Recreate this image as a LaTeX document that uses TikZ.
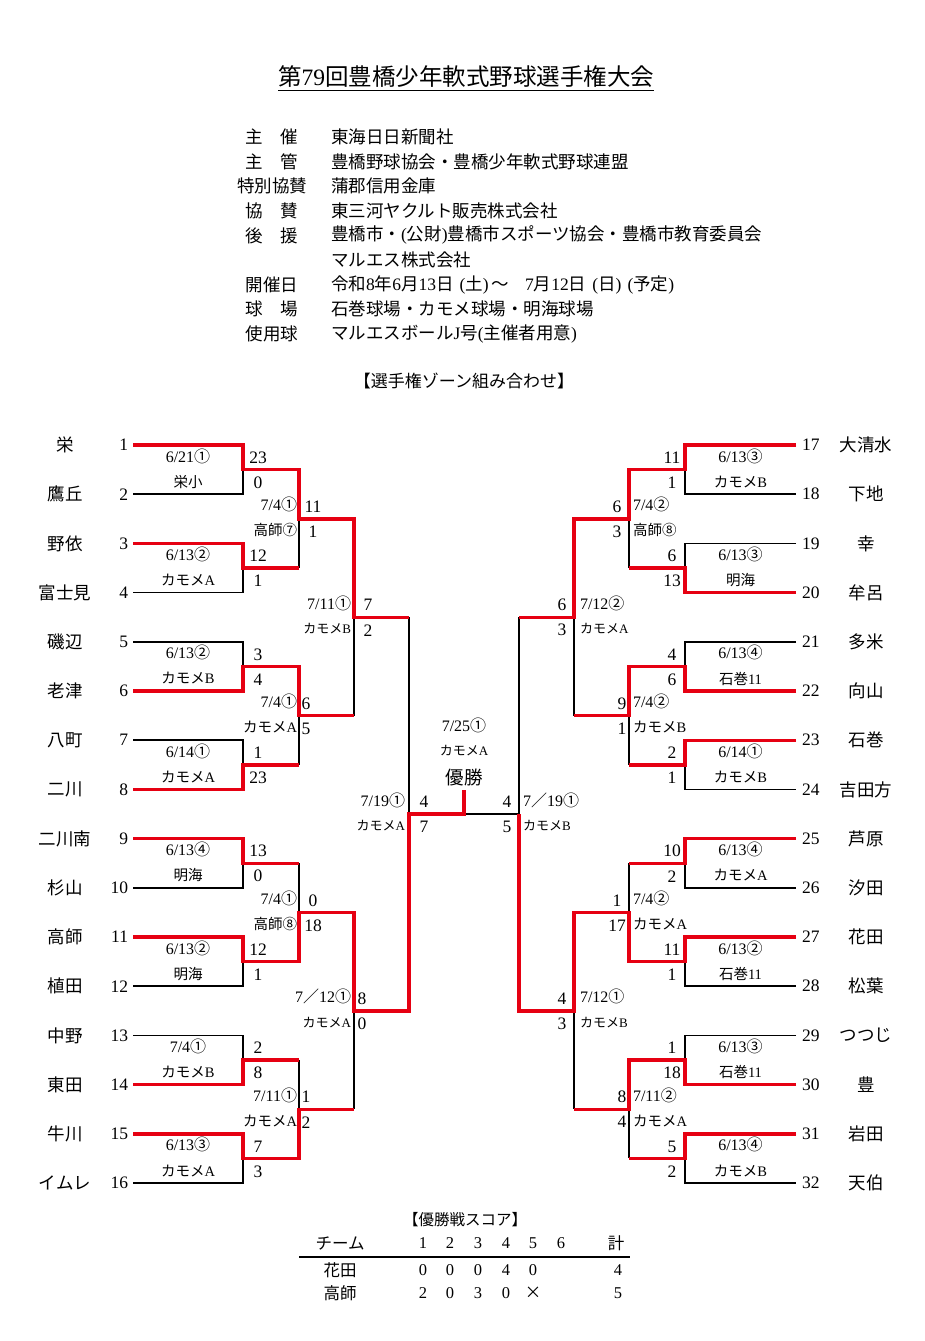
\documentclass[tikz,border=0pt]{standalone}
\usepackage{fontspec}
\setmainfont{Liberation Serif}
\newfontfamily\jp{Noto Sans CJK JP}
\newcommand\J[1]{{\jp #1}}
\newcommand\fs[1]{\fontsize{#1}{#1}\selectfont}
\definecolor{redc}{RGB}{230,0,18}
\tikzset{
  every node/.style={inner sep=0pt,outer sep=0pt},
  bl/.style={line width=1.7pt,black,line join=miter},
  rd/.style={line width=3.4pt,redc,line join=miter},
  tname/.style={font=\jp\fs{17.5}},
  tnum/.style={font=\fs{17.5}},
  sc/.style={font=\fs{17.5}},
  dt/.style={font=\fs{16}},
  vn/.style={font=\fs{14.5}},
  info/.style={font=\fs{17.5}},
  tab/.style={font=\fs{16.5}},
}
\newcommand\W[5]{\draw[rd] (#1,#2) -- (#3,#2) -- (#3,#4) -- (#5,#4);}
\newcommand\Rone[8]{%
  \node[dt] (d#1) at (#2,{#4+11}) {#5};
  \node[vn] (v#1) at (#2,{#4+49.2-12.5}) {#6};
  \node[sc] (a#1) at (#3,{#4+24.6-12}) {#7};
  \node[sc] (b#1) at (#3,{#4+24.6+13}) {#8};}
\newcommand\Rn[9]{%
  \node[dt,anchor=#2] (d#1) at (#3,{#5-14}) {#6};
  \node[vn,anchor=#2] (v#1) at (#3,{#5+11.5}) {#7};
  \node[sc] (a#1) at (#4,{#5-12}) {#8};
  \node[sc] (b#1) at (#4,{#5+13}) {#9};}
\begin{document}
\begin{tikzpicture}[x=1pt,y=-1pt]
\fill[white] (0,0) rectangle (924,1341);
\path[use as bounding box] (0,0) rectangle (924,1341);

% ---------- header ----------
\node[font=\fs{23.5}] (title) at (466,77) {\J{第}79\J{回豊橋少年軟式野球選手権大会}};
\draw[line width=1.1pt] ([yshift=-2.5pt]title.south west) -- ([yshift=-2.5pt]title.south east);

\node[info] (k1) at (272,137) {\J{主　催}};
\node[info] (k2) at (272,161.6) {\J{主　管}};
\node[info] (k3) at (272,186.2) {\J{特別協賛}};
\node[info] (k4) at (272,210.8) {\J{協　賛}};
\node[info] (k5) at (272,235.4) {\J{後　援}};
\node[info] (k7) at (272,284.6) {\J{開催日}};
\node[info] (k8) at (272,309.2) {\J{球　場}};
\node[info] (k9) at (272,333.8) {\J{使用球}};
\node[info,anchor=west] (i1) at (331,137) {\J{東海日日新聞社}};
\node[info,anchor=west] (i2) at (331,161.6) {\J{豊橋野球協会・豊橋少年軟式野球連盟}};
\node[info,anchor=west] (i3) at (331,186.2) {\J{蒲郡信用金庫}};
\node[info,anchor=west] (i4) at (331,210.8) {\J{東三河ヤクルト販売株式会社}};
\node[info,anchor=west] (i5) at (331,235.4) {\J{豊橋市・}(\J{公財})\J{豊橋市スポーツ協会・豊橋市教育委員会}};
\node[info,anchor=west] (i6) at (331,260) {\J{マルエス株式会社}};
\node[info,anchor=west] (i7) at (331,284.6) {\J{令和}8\J{年}6\J{月}13\J{日}\hspace{6pt}(\J{土})\hspace{3pt}\J{～}\hspace{16pt}7\J{月}12\J{日}\hspace{6pt}(\J{日})\hspace{6pt}(\J{予定})};
\node[info,anchor=west] (i8) at (331,309.2) {\J{石巻球場・カモメ球場・明海球場}};
\node[info,anchor=west] (i9) at (331,333.8) {\J{マルエスボール}J\J{号}(\J{主催者用意})};

\node[font=\jp\fs{17}] (zone) at (464,381) {【選手権ゾーン組み合わせ】};

% ---------- teams ----------
\foreach \i/\n in {1/栄,2/鷹丘,3/野依,4/富士見,5/磯辺,6/老津,7/八町,8/二川,9/二川南,10/杉山,11/高師,12/植田,13/中野,14/東田,15/牛川,16/イムレ}{
  \node[tname] (nl\i) at (65,{445+(\i-1)*49.2}) {\n};
  \node[tnum,anchor=east] (kl\i) at (128,{445+(\i-1)*49.2}) {\i};
}
\foreach \i/\n in {17/大清水,18/下地,19/幸,20/牟呂,21/多米,22/向山,23/石巻,24/吉田方,25/芦原,26/汐田,27/花田,28/松葉,29/つつじ,30/豊,31/岩田,32/天伯}{
  \node[tname] (nr\i) at (866,{445+(\i-17)*49.2}) {\n};
  \node[tnum,anchor=west] (kr\i) at (802,{445+(\i-17)*49.2}) {\i};
}

% ---------- black bracket ----------
\foreach \y in {445,543.4,641.8,740.2,838.6,937,1035.4,1133.8}{
  \draw[bl] (133,\y) -- (243,\y) -- (243,{\y+49.2}) -- (133,{\y+49.2});
  \draw[bl] (796,\y) -- (685,\y) -- (685,{\y+49.2}) -- (796,{\y+49.2});
}
\foreach \y in {469.6,666.4,863.2,1060}{
  \draw[bl] (299,\y) -- (299,{\y+98.4});
  \draw[bl] (629,\y) -- (629,{\y+98.4});
}
\foreach \y in {518.8,912.4}{
  \draw[bl] (354,\y) -- (354,{\y+196.8});
  \draw[bl] (574,\y) -- (574,{\y+196.8});
}
\draw[bl] (409,617.2) -- (409,1010.8);
\draw[bl] (519,617.2) -- (519,1010.8);
\draw[bl] (464,814) -- (519,814);

% ---------- red winner paths ----------
\W{133}{445}{243}{469.6}{299}
\W{133}{543.4}{243}{568}{299}
\W{133}{691}{243}{666.4}{299}
\W{133}{789.4}{243}{764.8}{299}
\W{133}{838.6}{243}{863.2}{299}
\W{133}{937}{243}{961.6}{299}
\W{133}{1084.6}{243}{1060}{299}
\W{133}{1133.8}{243}{1158.4}{299}
\W{243}{469.6}{299}{518.8}{354}
\W{243}{666.4}{299}{715.6}{354}
\W{243}{961.6}{299}{912.4}{354}
\W{243}{1158.4}{299}{1109.2}{354}
\W{299}{518.8}{354}{617.2}{409}
\W{299}{912.4}{354}{1010.8}{409}
\draw[rd] (354,1010.8) -- (409,1010.8) -- (409,814) -- (464,814) -- (464,790);

\W{796}{445}{685}{469.6}{629}
\W{796}{592.6}{685}{568}{629}
\W{796}{691}{685}{666.4}{629}
\W{796}{740.2}{685}{764.8}{629}
\W{796}{838.6}{685}{863.2}{629}
\W{796}{937}{685}{961.6}{629}
\W{796}{1084.6}{685}{1060}{629}
\W{796}{1133.8}{685}{1158.4}{629}
\W{685}{469.6}{629}{518.8}{574}
\W{685}{666.4}{629}{715.6}{574}
\W{685}{961.6}{629}{912.4}{574}
\W{685}{1060}{629}{1109.2}{574}
\W{629}{518.8}{574}{617.2}{519}
\W{629}{912.4}{574}{1010.8}{519}
\draw[rd] (574,1010.8) -- (519,1010.8) -- (519,814);

% ---------- match labels, left ----------
\Rone{L1}{188}{258}{445}{6/21\J{①}}{\J{栄小}}{23}{0}
\Rone{L2}{188}{258}{543.4}{6/13\J{②}}{\J{カモメ}A}{12}{1}
\Rone{L3}{188}{258}{641.8}{6/13\J{②}}{\J{カモメ}B}{3}{4}
\Rone{L4}{188}{258}{740.2}{6/14\J{①}}{\J{カモメ}A}{1}{23}
\Rone{L5}{188}{258}{838.6}{6/13\J{④}}{\J{明海}}{13}{0}
\Rone{L6}{188}{258}{937}{6/13\J{②}}{\J{明海}}{12}{1}
\Rone{L7}{188}{258}{1035.4}{7/4\J{①}}{\J{カモメ}B}{2}{8}
\Rone{L8}{188}{258}{1133.8}{6/13\J{③}}{\J{カモメ}A}{7}{3}
\Rn{LQ1}{east}{297}{313}{518.8}{7/4\J{①}}{\J{高師⑦}}{11}{1}
\Rn{LQ2}{east}{297}{306}{715.6}{7/4\J{①}}{\J{カモメ}A}{6}{5}
\Rn{LQ3}{east}{297}{313}{912.4}{7/4\J{①}}{\J{高師⑧}}{0}{18}
\Rn{LQ4}{east}{297}{306}{1109.2}{7/11\J{①}}{\J{カモメ}A}{1}{2}
\Rn{LH1}{east}{351}{368}{617.2}{7/11\J{①}}{\fs{13}\J{カモメ}B}{7}{2}
\Rn{LH2}{east}{351}{362}{1010.8}{7\J{／}12\J{①}}{\fs{13}\J{カモメ}A}{8}{0}
\Rn{LS}{east}{405}{424}{814}{7/19\J{①}}{\fs{13}\J{カモメ}A}{4}{7}

% ---------- match labels, right ----------
\Rone{R1}{740.5}{672}{445}{6/13\J{③}}{\J{カモメ}B}{11}{1}
\Rone{R2}{740.5}{672}{543.4}{6/13\J{③}}{\J{明海}}{6}{13}
\Rone{R3}{740.5}{672}{641.8}{6/13\J{④}}{\J{石巻}11}{4}{6}
\Rone{R4}{740.5}{672}{740.2}{6/14\J{①}}{\J{カモメ}B}{2}{1}
\Rone{R5}{740.5}{672}{838.6}{6/13\J{④}}{\J{カモメ}A}{10}{2}
\Rone{R6}{740.5}{672}{937}{6/13\J{②}}{\J{石巻}11}{11}{1}
\Rone{R7}{740.5}{672}{1035.4}{6/13\J{③}}{\J{石巻}11}{1}{18}
\Rone{R8}{740.5}{672}{1133.8}{6/13\J{④}}{\J{カモメ}B}{5}{2}
\Rn{RQ1}{west}{633}{617}{518.8}{7/4\J{②}}{\J{高師⑧}}{6}{3}
\Rn{RQ2}{west}{633}{622}{715.6}{7/4\J{②}}{\J{カモメ}B}{9}{1}
\Rn{RQ3}{west}{633}{617}{912.4}{7/4\J{②}}{\J{カモメ}A}{1}{17}
\Rn{RQ4}{west}{633}{622}{1109.2}{7/11\J{②}}{\J{カモメ}A}{8}{4}
\Rn{RH1}{west}{580}{562}{617.2}{7/12\J{②}}{\fs{13}\J{カモメ}A}{6}{3}
\Rn{RH2}{west}{580}{562}{1010.8}{7/12\J{①}}{\fs{13}\J{カモメ}B}{4}{3}
\Rn{RS}{west}{523}{507}{814}{7\J{／}19\J{①}}{\fs{13}\J{カモメ}B}{4}{5}

% ---------- final ----------
\node[dt] (fd) at (464,725) {7/25\J{①}};
\node[font=\fs{13}] (fv) at (464,751) {\J{カモメ}A};
\node[font=\jp\fs{18.5}] (win) at (464,777) {優勝};

% ---------- score table ----------
\node[font=\jp\fs{15.5}] (tt) at (465,1220) {【優勝戦スコア】};
\node[tab] (h0) at (340,1243) {\J{チーム}};
\foreach \c/\x in {1/423,2/450,3/478,4/506,5/533,6/561}{
  \node[tab] (h\c) at (\x,1243) {\c};
}
\node[tab] (h7) at (616,1243) {\J{計}};
\draw[line width=2pt] (299,1257) -- (630,1257);
\node[tab] (r1) at (340,1270) {\J{花田}};
\foreach \c/\x/\v in {1/423/0,2/450/0,3/478/0,4/506/4,5/533/0,7/618/4}{
  \node[tab] (ra\c) at (\x,1270) {\v};
}
\node[tab] (r2) at (340,1293) {\J{高師}};
\foreach \c/\x/\v in {1/423/2,2/450/0,3/478/3,4/506/0,7/618/5}{
  \node[tab] (rb\c) at (\x,1293) {\v};
}
\node[tab] (rb5) at (533,1293) {\J{×}};
\end{tikzpicture}
\end{document}
